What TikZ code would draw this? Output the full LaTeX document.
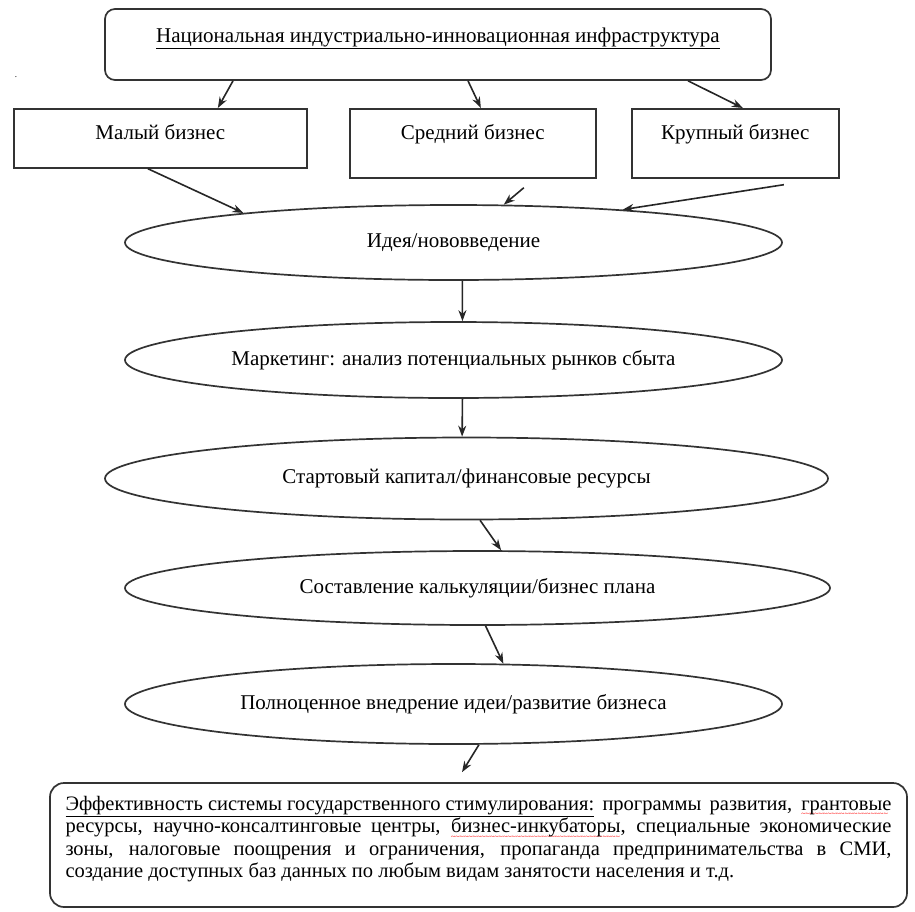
\documentclass[tikz,border=0pt]{standalone}
\usepackage{fontspec}
\setmainfont{Liberation Serif}
\usetikzlibrary{shapes.geometric, arrows.meta}
\newcommand{\spellwave}[1]{\setbox0=\hbox{#1}\rlap{\leaders\hbox{\textcolor{red}{\fontsize{8}{8}\selectfont\raisebox{-6.5pt}{\char126}}}\hskip\wd0}\box0}

\tikzset{
  frame/.style={draw=black!80, line width=1.7pt},
  bizbox/.style={frame, rectangle, inner sep=0pt, anchor=north west, text height=14pt},
  stage/.style={frame, ellipse, inner sep=0pt},
  flow/.style={-{Stealth[length=11pt,width=8pt]}, line width=1.6pt, black!85},
}

\begin{document}
\begin{tikzpicture}[x=1pt, y=-1pt, font=\fontsize{21}{22.5}\selectfont]
\fill[white] (0,0) rectangle (915,911);
\useasboundingbox (0,0) rectangle (915,911);

% top level
\node[frame, rounded corners=10pt, minimum width=666pt, minimum height=71pt, inner sep=0pt,
  text height=14pt, text depth=19pt] (infra) at (438,44.5)
  {\underline{Национальная индустриально-инновационная инфраструктура}};
\node[font=\small] (dot) at (16,77) {.};

% business size boxes
\node[bizbox, minimum width=293pt, minimum height=59pt, text depth=11pt] (small) at (13,108) {Малый бизнес};
\node[bizbox, minimum width=246pt, minimum height=69pt, text depth=21pt] (mid) at (349,108) {Средний бизнес};
\node[bizbox, minimum width=207pt, minimum height=69pt, text depth=21pt] (large) at (631,108) {Крупный бизнес};

% stages
\node[stage, minimum width=657pt, minimum height=75pt] (idea) at (453.5,242.5) {Идея/нововведение};
\node[stage, minimum width=657pt, minimum height=76pt] (market) at (453.5,360) {Маркетинг: анализ потенциальных рынков сбыта};
\node[stage, minimum width=723pt, minimum height=82pt] (capital) at (466.5,478.5) {Стартовый капитал/финансовые ресурсы};
\node[stage, minimum width=705pt, minimum height=74pt] (plan) at (477.5,588) {Составление калькуляции/бизнес плана};
\node[stage, minimum width=657pt, minimum height=80pt] (launch) at (453.5,704) {Полноценное внедрение идеи/развитие бизнеса};

% state support
\node[frame, rounded corners=14pt, minimum width=857pt, minimum height=124pt, inner xsep=15.5pt, inner ysep=0pt,
  text width=826pt, align=justify, font=\fontsize{20.5}{22.5}\selectfont] (policy) at (478.5,845)
  {\underline{Эффективность системы государственного стимулирования:} программы развития, \spellwave{грантовые}\linebreak
  ресурсы, научно-консалтинговые центры, \spellwave{бизнес-инкубаторы}, специальные экономические\linebreak
  зоны, налоговые поощрения и ограничения, пропаганда предпринимательства в СМИ,\linebreak
  создание доступных баз данных по любым видам занятости населения и т.д.\par\vspace{-6pt}\mbox{}};

% arrows
\draw[flow] ([xshift=-205pt]infra.south) -- ([xshift=57.5pt]small.north);
\draw[flow] ([xshift=30pt]infra.south) -- ([xshift=8pt]mid.north);
\draw[flow] ([xshift=250pt]infra.south) -- ([xshift=7.5pt]large.north);
\draw[flow] ([xshift=-12.5pt]small.south) -- (idea.172);
\draw[flow] ([xshift=51pt,yshift=-9pt]mid.south) -- (idea.37);
\draw[flow] ([xshift=48.5pt,yshift=-6pt]large.south) -- (idea.11.5);
\draw[flow] (idea.-77) -- (market.77);
\draw[flow] (market.-77) -- (capital.96);
\draw[flow] (capital.-72) -- (plan.58);
\draw[flow] (plan.-78.5) -- (launch.39);
\draw[flow] (launch.-58) -- ([xshift=-16.5pt,yshift=10pt]policy.north);
\end{tikzpicture}
\end{document}
